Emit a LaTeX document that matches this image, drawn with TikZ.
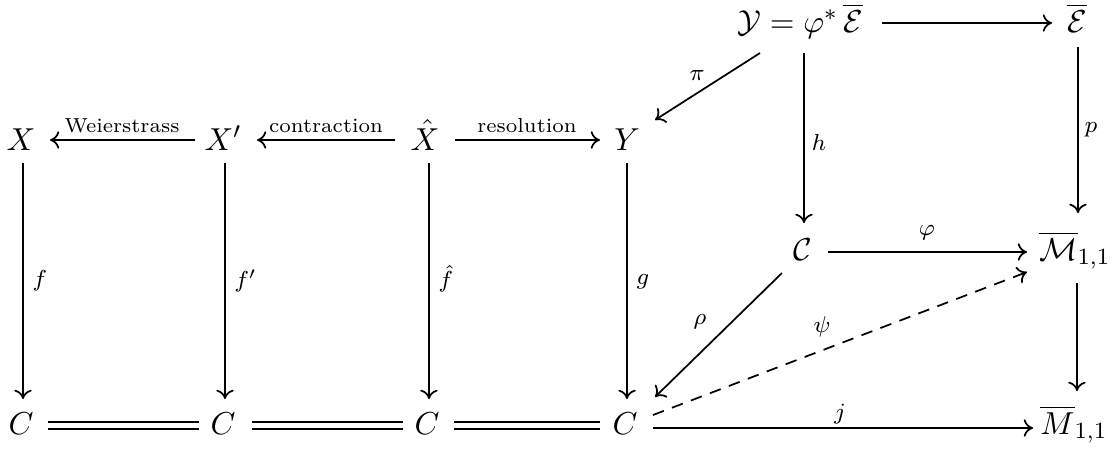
\documentclass[tikz,border=0pt]{standalone}
\usepackage{amsmath,amssymb}
\usetikzlibrary{arrows.meta}
\begin{document}
\begin{tikzpicture}[x=0.345pt,y=-0.345pt,
  obj/.style={inner sep=0pt, anchor=base, font=\fontsize{11}{13}\selectfont},
  lab/.style={inner sep=0pt, font=\fontsize{7}{8}\selectfont},
  mlab/.style={inner sep=0pt, font=\fontsize{8}{9}\selectfont},
  arr/.style={line width=0.6pt, -{Computer Modern Rightarrow[length=3.2pt,width=6pt]}},
  eqline/.style={line width=0.6pt, double, double distance=1.7pt},
  dsh/.style={arr, dash pattern=on 4pt off 3pt}]
\useasboundingbox (0,0) rectangle (1115,449);
% top row
\node[obj] (X)  at (21,150)  {$X$};
\node[obj] (Xp) at (223,150) {$X'$};
\node[obj] (Xh) at (425,150) {$\hat{X}$};
\node[obj] (Y)  at (627,150) {$Y$};
% bottom row
\node[obj] (C1) at (21,434)  {$C$};
\node[obj] (C2) at (223,434) {$C$};
\node[obj] (C3) at (427,434) {$C$};
\node[obj] (C4) at (625,434) {$C$};
\node[obj] (M2) at (1074,434) {$\overline{M}_{1,1}$};
% right part
\node[obj] (Yc) at (800,32) {$\mathcal{Y} = \varphi^{*}\,\overline{\mathcal{E}}$};
\node[obj] (E)  at (1077,32) {$\overline{\mathcal{E}}$};
\node[obj] (Cc) at (803,260) {$\mathcal{C}$};
\node[obj] (M1) at (1075,260) {$\overline{\mathcal{M}}_{1,1}$};
% horizontal arrows, top row
\draw[arr] ([shift={(-28,-10)}]Xp.base) -- ([shift={(29,-10)}]X.base);
\draw[arr] ([shift={(-30,-10)}]Xh.base) -- ([shift={(34,-10)}]Xp.base);
\draw[arr] ([shift={(30,-10)}]Xh.base) -- ([shift={(-27,-10)}]Y.base);
\node[lab, anchor=base] (lw) at (122,132) {Weierstrass};
\node[lab, anchor=base] (lc) at (326,132) {contraction};
\node[lab, anchor=base] (lr) at (527,132) {resolution};
% verticals
\draw[arr] ([shift={(2,13)}]X.base) -- ([shift={(2,-35)}]C1.base);
\draw[arr] ([shift={(2,13)}]Xp.base) -- ([shift={(2,-35)}]C2.base);
\draw[arr] ([shift={(4,13)}]Xh.base) -- ([shift={(2,-35)}]C3.base);
\draw[arr] ([shift={(0,13)}]Y.base) -- ([shift={(2,-35)}]C4.base);
\node[mlab, anchor=west] (lf)  at (32,281)  {$f$};
\node[mlab, anchor=west] (lfp) at (234,281) {$f'$};
\node[mlab, anchor=west] (lfh) at (438,279) {$\hat{f}$};
\node[mlab, anchor=west] (lg)  at (636,282) {$g$};
% bottom equalities
\draw[eqline] ([shift={(27,-8.5)}]C1.base) -- ([shift={(-24,-8.5)}]C2.base);
\draw[eqline] ([shift={(29,-8.5)}]C2.base) -- ([shift={(-24,-8.5)}]C3.base);
\draw[eqline] ([shift={(27,-8.5)}]C3.base) -- ([shift={(-25,-8.5)}]C4.base);
% right part arrows
\draw[arr] ([shift={(82,-9)}]Yc.base) -- ([shift={(-25,-9)}]E.base);
\draw[arr] ([shift={(-40,21)}]Yc.base) -- ([shift={(28,-30)}]Y.base);
\node[mlab] (lpi) at (697,75) {$\pi$};
\draw[arr] ([shift={(4,21)}]Yc.base) -- ([shift={(1,-37)}]Cc.base);
\node[mlab] (lh) at (819,142) {$h$};
\draw[arr] ([shift={(1,15)}]E.base) -- ([shift={(3,-47)}]M1.base);
\node[mlab] (lp) at (1091,130) {$p$};
\draw[arr] ([shift={(25,-8)}]Cc.base) -- ([shift={(-48,-8)}]M1.base);
\node[mlab] (lphi) at (927,233) {$\varphi$};
\draw[dsh] ([shift={(28,-19)}]C4.base) -- ([shift={(-48,12)}]M1.base);
\node[mlab] (lpsi) at (822,327) {$\psi$};
\draw[arr] ([shift={(-21,13)}]Cc.base) -- ([shift={(30,-37)}]C4.base);
\node[mlab] (lrho) at (700,322) {$\rho$};
\draw[arr] ([shift={(2,23)}]M1.base) -- ([shift={(3,-43)}]M2.base);
\draw[arr] ([shift={(28,-6)}]C4.base) -- ([shift={(-41,-6)}]M2.base);
\node[mlab] (lj) at (840,414) {$j$};
\end{tikzpicture}
\end{document}
